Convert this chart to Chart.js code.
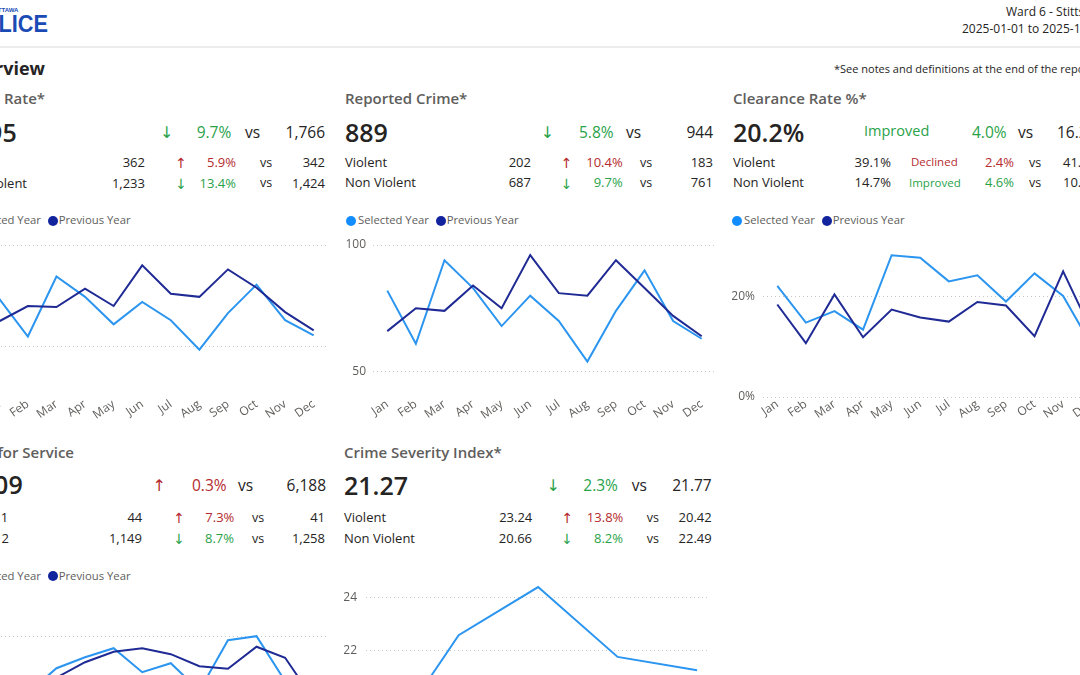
<!DOCTYPE html>
<html>
<head>
<meta charset="utf-8">
<script src="https://cdn.jsdelivr.net/npm/chart.js@4.4.1/dist/chart.umd.min.js"></script>
<style>
html,body{margin:0;padding:0;background:#fff;width:1080px;height:675px;overflow:hidden;position:relative;font-family:'Open Sans',sans-serif;color:#252423;}
.a{position:absolute;white-space:nowrap;}
canvas{position:absolute;}
.dot{position:absolute;width:10px;height:10px;border-radius:50%;}
.rule{position:absolute;left:0;top:46px;width:1080px;height:2px;background:#ececec;}
</style>
</head>
<body>
<div class="rule"></div>
<canvas id="cRate"></canvas>
<canvas id="cReported"></canvas>
<canvas id="cClear"></canvas>
<canvas id="cCalls"></canvas>
<canvas id="cCsi"></canvas>
<script>
// ---------------- DATA ----------------
const months = ['Jan','Feb','Mar','Apr','May','Jun','Jul','Aug','Sep','Oct','Nov','Dec'];
const crimeRateSelected = [147,110,169,149,122,144,126,97,133,161,126,111];
const crimeRatePrevious = [125,140,139,157,140,180,152,149,176,158,134,116];
const reportedSelected = [82,61,94,83,68,80,70,54,74,90,70,63];
const reportedPrevious = [66,75,74,84,75,96,81,80,94,83,72,64];
const clearanceSelected = [22.1,14.8,17.1,13.4,28.2,27.7,23.0,24.2,19.0,24.6,20.1,10.2];
const clearancePrevious = [18.4,10.7,20.4,11.9,17.4,15.8,15.0,18.9,18.2,12.1,25.0,13.0];
const callsSelected = [400,487,537,559,577,529,547,492,593,601,511,376];
const callsPrevious = [370,350,518,549,570,577,565,541,536,580,558,474];
const csiYears = [2021,2022,2023,2024,2025];
const csiValues = [18.15,22.59,24.41,21.77,21.27];
const crimeRateTicks = [100,200];
const reportedTicks = [50,100];
const clearanceTicks = [0,20];
const callsTicks = [400,600];
const csiTicks = [18,20,22,24];

// ---------------- STYLE ----------------
const GREEN = '#2aa24a', RED = '#b52b2e', GRAY = '#605e5c', DARK = '#252423';
const LOGO = '#1a4bb5';
const SEL = '#2b95f0', PREV = '#1f2a94';
const SEL_DOT = '#118DFF', PREV_DOT = '#12239E';

function t(text, x, base, size, o) {
  o = o || {};
  const d = document.createElement('div');
  d.className = 'a';
  d.textContent = text;
  const ff = o.font || "'Open Sans'";
  d.style.font = (o.weight || 400) + ' ' + size + 'px/1 ' + ff + ', sans-serif';
  d.style.color = o.color || DARK;
  d.style.top = (base - (o.asc || 0.888) * size) + 'px';
  if (o.align === 'r') d.style.right = (1080 - x) + 'px';
  else if (o.align === 'c') { d.style.left = x + 'px'; d.style.transform = 'translateX(-50%)'; }
  else d.style.left = x + 'px';
  if (o.transform) { d.style.transform = o.transform; d.style.transformOrigin = o.origin || 'right center'; }
  document.body.appendChild(d);
  return d;
}
function arrow(up, cx, centerY, size) {
  return t(up ? '\u2191' : '\u2193', cx, centerY + 0.36 * size, size,
    {align:'c', font:"'DejaVu Sans'", asc:0.846, color: up ? RED : GREEN});
}
function dot(cx, cy, color) {
  const d = document.createElement('div');
  d.className = 'dot';
  d.style.left = (cx - 5) + 'px'; d.style.top = (cy - 5) + 'px';
  d.style.background = color;
  document.body.appendChild(d);
}
function legend(dx, cy) {
  dot(351 + dx, cy, SEL_DOT);
  t('Selected Year', 358 + dx, cy + 4, 11.3, {color: GRAY});
  dot(440.7 + dx, cy, PREV_DOT);
  t('Previous Year', 446.7 + dx, cy + 4, 11.3, {color: GRAY});
}

// ---------------- HEADER ----------------
t('OTTAWA', 18.3, 11.7, 6, {align:'r', weight:700, font:"'Liberation Sans'", asc:0.8465, color: LOGO});
t('POLICE', 48, 32.7, 24.7, {align:'r', weight:700, font:"'Liberation Sans'", asc:0.8465, color: LOGO, transform:'scaleX(0.88)'});
t('Ward 6 - Stittsville', 1006, 16.5, 12);
t('2025-01-01 to 2025-12-31', 962, 33.5, 12);
t('Overview', 45, 75, 18, {align:'r', weight:700});
t('*See notes and definitions at the end of the report', 834, 73, 11);

// ---------------- CRIME RATE (left, cut) ----------------
t('Crime Rate*', 45, 104.4, 15, {align:'r', weight:600, color: GRAY});
t('1,595', 16.7, 142, 25, {align:'r', weight:600});
arrow(false, 166.7, 133, 16);
t('9.7%', 196.7, 139, 15.5, {color: GREEN});
t('vs', 245, 139, 15.5);
t('1,766', 325, 139, 15.5, {align:'r'});
t('Violent', -3, 167.6, 13, {align:'r'});
t('362', 145, 167.6, 13, {align:'r'});
arrow(true, 181, 163, 14);
t('5.9%', 236, 167.6, 13, {align:'r', color: RED});
t('vs', 260, 167.6, 12.5);
t('342', 325, 167.6, 13, {align:'r'});
t('Non Violent', 27, 188.3, 13, {align:'r'});
t('1,233', 145, 188.3, 13, {align:'r'});
arrow(false, 181, 184, 14);
t('13.4%', 236, 188.3, 13, {align:'r', color: GREEN});
t('vs', 260, 188.3, 12.5);
t('1,424', 325, 188.3, 13, {align:'r'});
legend(-388, 220.5);

// ---------------- REPORTED CRIME ----------------
t('Reported Crime*', 345, 104.4, 15, {weight:600, color: GRAY});
t('889', 345, 142, 25, {weight:600});
arrow(false, 547.5, 133, 16);
t('5.8%', 579, 139, 15.5, {color: GREEN});
t('vs', 626, 139, 15.5);
t('944', 713, 139, 15.5, {align:'r'});
t('Violent', 345, 167.6, 13);
t('202', 531, 167.6, 13, {align:'r'});
arrow(true, 566.7, 163, 14);
t('10.4%', 622.7, 167.6, 13, {align:'r', color: RED});
t('vs', 640, 167.6, 12.5);
t('183', 713, 167.6, 13, {align:'r'});
t('Non Violent', 345, 188, 13);
t('687', 531, 188, 13, {align:'r'});
arrow(false, 566.7, 183.5, 14);
t('9.7%', 622.7, 188, 13, {align:'r', color: GREEN});
t('vs', 640, 188, 12.5);
t('761', 713, 188, 13, {align:'r'});
legend(0, 220.5);

// ---------------- CLEARANCE RATE ----------------
t('Clearance Rate %*', 733, 104.4, 15, {weight:600, color: GRAY});
t('20.2%', 733, 142, 25, {weight:600});
t('Improved', 864, 137, 14.5, {color: GREEN});
t('4.0%', 972, 139, 15.5, {color: GREEN});
t('vs', 1018, 139, 15.5);
t('16.2%', 1057, 139, 15.5);
t('Violent', 733, 167.6, 13);
t('39.1%', 891, 167.6, 13, {align:'r'});
t('Declined', 911, 166.5, 11.5, {color: RED});
t('2.4%', 985, 167.6, 13, {color: RED});
t('vs', 1029, 167.6, 12.5);
t('41.5%', 1063, 167.6, 13);
t('Non Violent', 733, 188, 13);
t('14.7%', 891, 188, 13, {align:'r'});
t('Improved', 909, 187, 11.5, {color: GREEN});
t('4.6%', 985, 188, 13, {color: GREEN});
t('vs', 1029, 188, 12.5);
t('10.1%', 1063, 188, 13);
legend(386, 220.5);

// ---------------- CALLS FOR SERVICE (left, cut) ----------------
t('Calls for Service', 74, 458, 15, {align:'r', weight:600, color: GRAY});
t('6,209', 22.7, 494.5, 25, {align:'r', weight:600});
arrow(true, 159.3, 485.5, 16);
t('0.3%', 192, 491.5, 15.5, {color: RED});
t('vs', 238, 491.5, 15.5);
t('6,188', 326, 491.5, 15.5, {align:'r'});
t('Priority 1', 8.3, 522.6, 13, {align:'r'});
t('44', 142.3, 522.6, 13, {align:'r'});
arrow(true, 179, 518, 14);
t('7.3%', 234.3, 522.6, 13, {align:'r', color: RED});
t('vs', 252, 522.6, 12.5);
t('41', 325, 522.6, 13, {align:'r'});
t('Priority 2', 9, 543.6, 13, {align:'r'});
t('1,149', 142, 543.6, 13, {align:'r'});
arrow(false, 179, 539, 14);
t('8.7%', 234, 543.6, 13, {align:'r', color: GREEN});
t('vs', 252, 543.6, 12.5);
t('1,258', 325, 543.6, 13, {align:'r'});
legend(-388, 575.7);

// ---------------- CRIME SEVERITY INDEX ----------------
t('Crime Severity Index*', 344, 458, 15, {weight:600, color: GRAY});
t('21.27', 344, 495, 25, {weight:600});
arrow(false, 553.3, 486, 16);
t('2.3%', 583.3, 492, 15.5, {color: GREEN});
t('vs', 631.7, 492, 15.5);
t('21.77', 711.7, 492, 15.5, {align:'r'});
t('Violent', 344, 522.9, 13);
t('23.24', 532.3, 522.9, 13, {align:'r'});
arrow(true, 567.3, 518.3, 14);
t('13.8%', 623.3, 522.9, 13, {align:'r', color: RED});
t('vs', 646.7, 522.9, 12.5);
t('20.42', 711.7, 522.9, 13, {align:'r'});
t('Non Violent', 344, 543.6, 13);
t('20.66', 532, 543.6, 13, {align:'r'});
arrow(false, 567, 539, 14);
t('8.2%', 623, 543.6, 13, {align:'r', color: GREEN});
t('vs', 646.7, 543.6, 12.5);
t('22.49', 711.7, 543.6, 13, {align:'r'});

// ---------------- CHARTS ----------------
Chart.defaults.font.family = "'Open Sans', sans-serif";
Chart.defaults.color = GRAY;

function place(id, left, top, w, h) {
  const c = document.getElementById(id);
  c.width = w; c.height = h;
  c.style.left = left + 'px'; c.style.top = top + 'px';
  c.style.width = w + 'px'; c.style.height = h + 'px';
  return c;
}
function ds(data, color) {
  return {data: data, borderColor: color, backgroundColor: color, borderWidth: 2,
          pointRadius: 0, pointHoverRadius: 0, tension: 0, fill: false};
}
function yAxis(min, max, ticks, width, pad, fmt) {
  return {
    min: min, max: max,
    afterBuildTicks: function(s){ s.ticks = ticks.map(function(v){ return {value: v}; }); },
    afterFit: function(s){ s.width = width; },
    grid: {color: '#c8c8c8', lineWidth: 1, drawTicks: false},
    border: {display: false, dash: [1, 3]},
    ticks: {color: GRAY, font: {size: 12}, padding: pad, callback: fmt || function(v){ return v; }}
  };
}
function xMonths() {
  return {
    offset: true,
    grid: {display: false, drawTicks: false},
    border: {display: false},
    ticks: {color: GRAY, font: {size: 12}, maxRotation: 35, minRotation: 35, autoSkip: false, padding: 0},
    afterFit: function(s){ s.height = 40; }
  };
}
function baseOpts(scales) {
  return {
    responsive: false, animation: false, devicePixelRatio: 1,
    layout: {padding: {top: 15, left: 0, right: 0, bottom: 0}},
    plugins: {legend: {display: false}, tooltip: {enabled: false}},
    events: [],
    scales: scales
  };
}
function monthChart(id, left, top, w, h, sel, prev, yCfg) {
  const c = place(id, left, top, w, h);
  return new Chart(c, {
    type: 'line',
    data: {labels: months, datasets: [ds(prev, PREV), ds(sel, SEL)]},
    options: baseOpts({x: xMonths(), y: yCfg})
  });
}

monthChart('cRate', -44, 230, 372, 207, crimeRateSelected, crimeRatePrevious,
  yAxis(50.5, 200, crimeRateTicks, 29, 7));
monthChart('cReported', 344, 230, 372, 207, reportedSelected, reportedPrevious,
  yAxis(40, 100, reportedTicks, 29, 7));
monthChart('cClear', 732, 230, 374, 207, clearanceSelected, clearancePrevious,
  yAxis(0, 30.2, clearanceTicks, 31, 8, function(v){ return v + '%'; }));
monthChart('cCalls', -44, 585, 372, 235, callsSelected, callsPrevious,
  yAxis(313.4, 673.4, callsTicks, 29, 7, function(v){ return v; }));

(function(){
  const c = place('cCsi', 344, 565, 366, 255);
  new Chart(c, {
    type: 'line',
    data: {datasets: [ds(csiYears.map(function(y, i){ return {x: y, y: csiValues[i]}; }), SEL)]},
    options: baseOpts({
      x: {type: 'linear', min: 2020.834, max: 2025.125,
          grid: {display: false, drawTicks: false}, border: {display: false},
          ticks: {stepSize: 1, color: GRAY, font: {size: 12}, callback: function(v){ return Number.isInteger(v) ? String(v) : ''; }},
          afterFit: function(s){ s.height = 40; }},
      y: yAxis(17.12, 24.63, csiTicks, 22, 9)
    })
  });
})();
</script>
</body>
</html>
